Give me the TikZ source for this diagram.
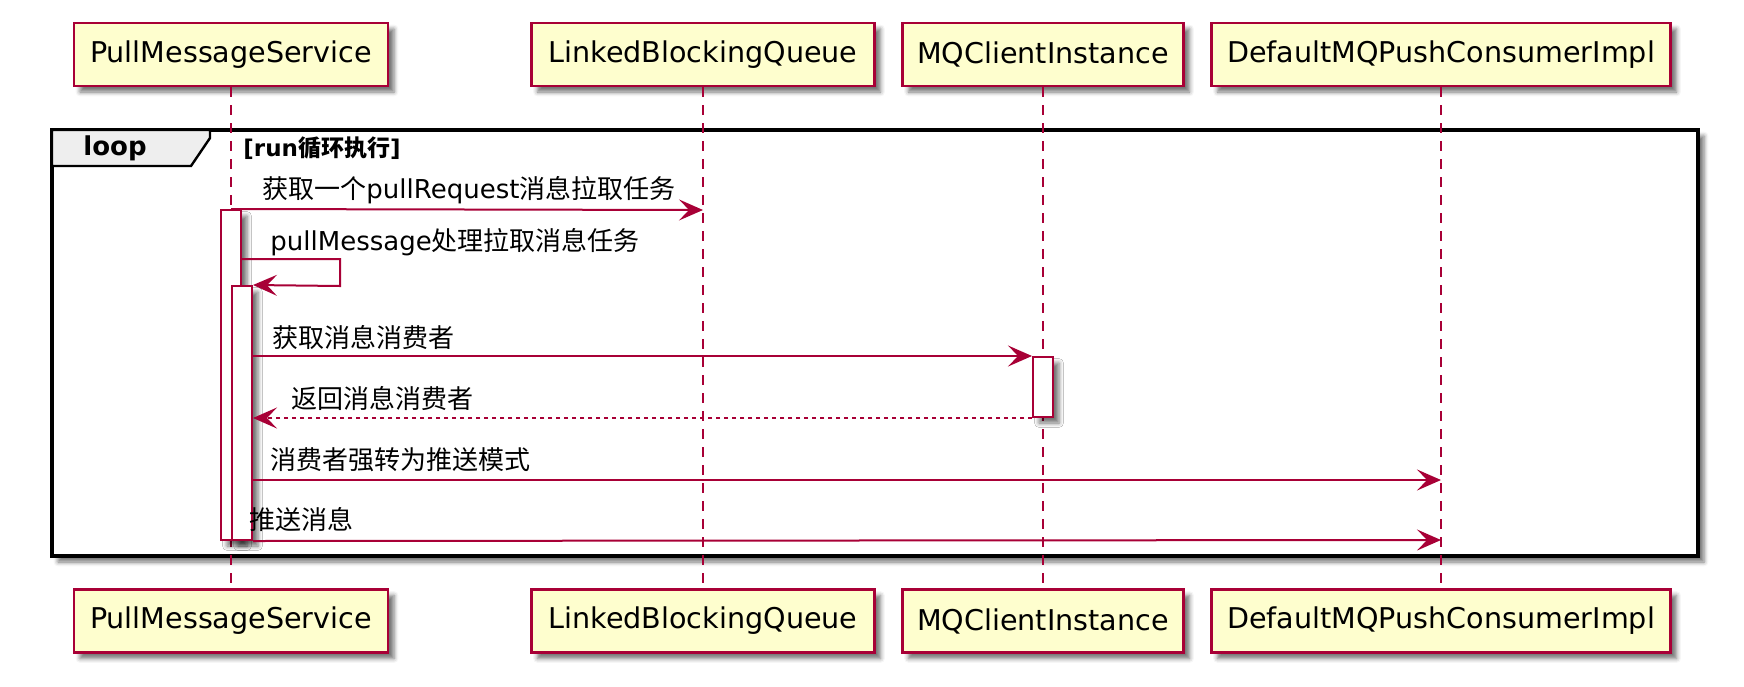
\documentclass[tikz,border=0pt]{standalone}
\usepackage{fontspec}
\setmainfont{DejaVu Sans}
\newfontfamily\cjk{Noto Sans CJK SC}
\usetikzlibrary{arrows.meta,shadows.blur}
\definecolor{pborder}{HTML}{A80036}
\definecolor{pfill}{HTML}{FEFECE}
\definecolor{tabfill}{HTML}{EEEEEE}
\begin{document}
\begin{tikzpicture}[x=0.5pt,y=-0.5pt,
  shad/.style={blur shadow={shadow xshift=3pt,shadow yshift=-3pt,shadow blur radius=2.2pt,shadow opacity=55}},
  participant/.style={draw=pborder,fill=pfill,line width=1.2pt,minimum height=31.5pt,inner sep=0pt,font=\fontsize{14.3}{17}\selectfont,shad},
  lifeline/.style={draw=pborder,line width=0.9pt,dash pattern=on 5pt off 4pt},
  actbar/.style={draw=pborder,fill=white,line width=1pt,minimum width=10pt,inner sep=0pt,shad},
  msg/.style={draw=pborder,line width=1pt,-{Stealth[length=12pt,width=10.5pt,inset=5pt]}},
  retmsg/.style={msg,dash pattern=on 2pt off 2pt},
  lbl/.style={anchor=west,inner sep=0pt,font=\fontsize{13}{15}\selectfont},
  frame/.style={draw=black,line width=2pt,fill=white,shad},
  tabbox/.style={draw=black,line width=1.2pt,fill=tabfill}]
\useasboundingbox (0,0) rectangle (1744,686);

% loop frame
\draw[frame] (52,130) rectangle (1698,556);
\draw[tabbox] (52,130) -- (210,130) -- (210,138) -- (191,166) -- (52,166) -- cycle;
\node[inner sep=0pt,font=\bfseries\fontsize{13}{15}\selectfont] (looplbl) at (115,148) {loop};
\node[anchor=west,inner sep=0pt,font=\bfseries\fontsize{11.5}{14}\selectfont] (guard) at (243,148) {[run{\cjk 循环执行}]};

% participants
\node[participant,minimum width=157pt] (pms) at (231,54.5) {PullMessageService};
\node[participant,minimum width=171.5pt] (lbq) at (703,54.5) {LinkedBlockingQueue};
\node[participant,minimum width=140.5pt] (mq) at (1043,54.5) {MQClientInstance};
\node[participant,minimum width=229.5pt] (dmq) at (1441,54.5) {DefaultMQPushConsumerImpl};

\node[participant,minimum width=157pt] (pmsB) at (231,621) {PullMessageService};
\node[participant,minimum width=171.5pt] (lbqB) at (703,621) {LinkedBlockingQueue};
\node[participant,minimum width=140.5pt] (mqB) at (1043,621) {MQClientInstance};
\node[participant,minimum width=229.5pt] (dmqB) at (1441,621) {DefaultMQPushConsumerImpl};

% lifelines
\draw[lifeline] (pms.south) -- (pmsB.north);
\draw[lifeline] (lbq.south) -- (lbqB.north);
\draw[lifeline] (mq.south) -- (mqB.north);
\draw[lifeline] (dmq.south) -- (dmqB.north);

% activation bars
\node[actbar,minimum height=165pt] (b1) at (231,375) {};
\node[actbar,minimum height=127pt] (b2) at (242,413) {};
\node[actbar,minimum height=30pt] (mqb) at (1043,387) {};

% named points
\coordinate (lbq1) at (703,210);
\coordinate (s1) at (241,259);
\coordinate (s2) at (340,259);
\coordinate (s3) at (340,286);
\coordinate (d1) at (1441,480);
\coordinate (d2) at (1441,540);

% messages
\draw[msg] (b1.north) -- (lbq1);
\draw[msg] (s1) -- (s2) -- (s3) -- (b2.north east);
\draw[msg] (b2.east |- mqb.north west) -- (mqb.north west);
\draw[retmsg] (mqb.south west) -- (b2.east |- mqb.south west);
\draw[msg] (b2.east |- d1) -- (d1);
\draw[msg] (b2.south east) -- (d2);

% labels
\node[lbl] (m1) at (262,190) {{\cjk 获取一个}pullRequest{\cjk 消息拉取任务}};
\node[lbl] (m2) at (270,242) {pullMessage{\cjk 处理拉取消息任务}};
\node[lbl] (m3) at (272,338) {{\cjk 获取消息消费者}};
\node[lbl] (m4) at (291,398) {{\cjk 返回消息消费者}};
\node[lbl] (m5) at (270,460) {{\cjk 消费者强转为推送模式}};
\node[lbl] (m6) at (249,519) {{\cjk 推送消息}};
\end{tikzpicture}
\end{document}
